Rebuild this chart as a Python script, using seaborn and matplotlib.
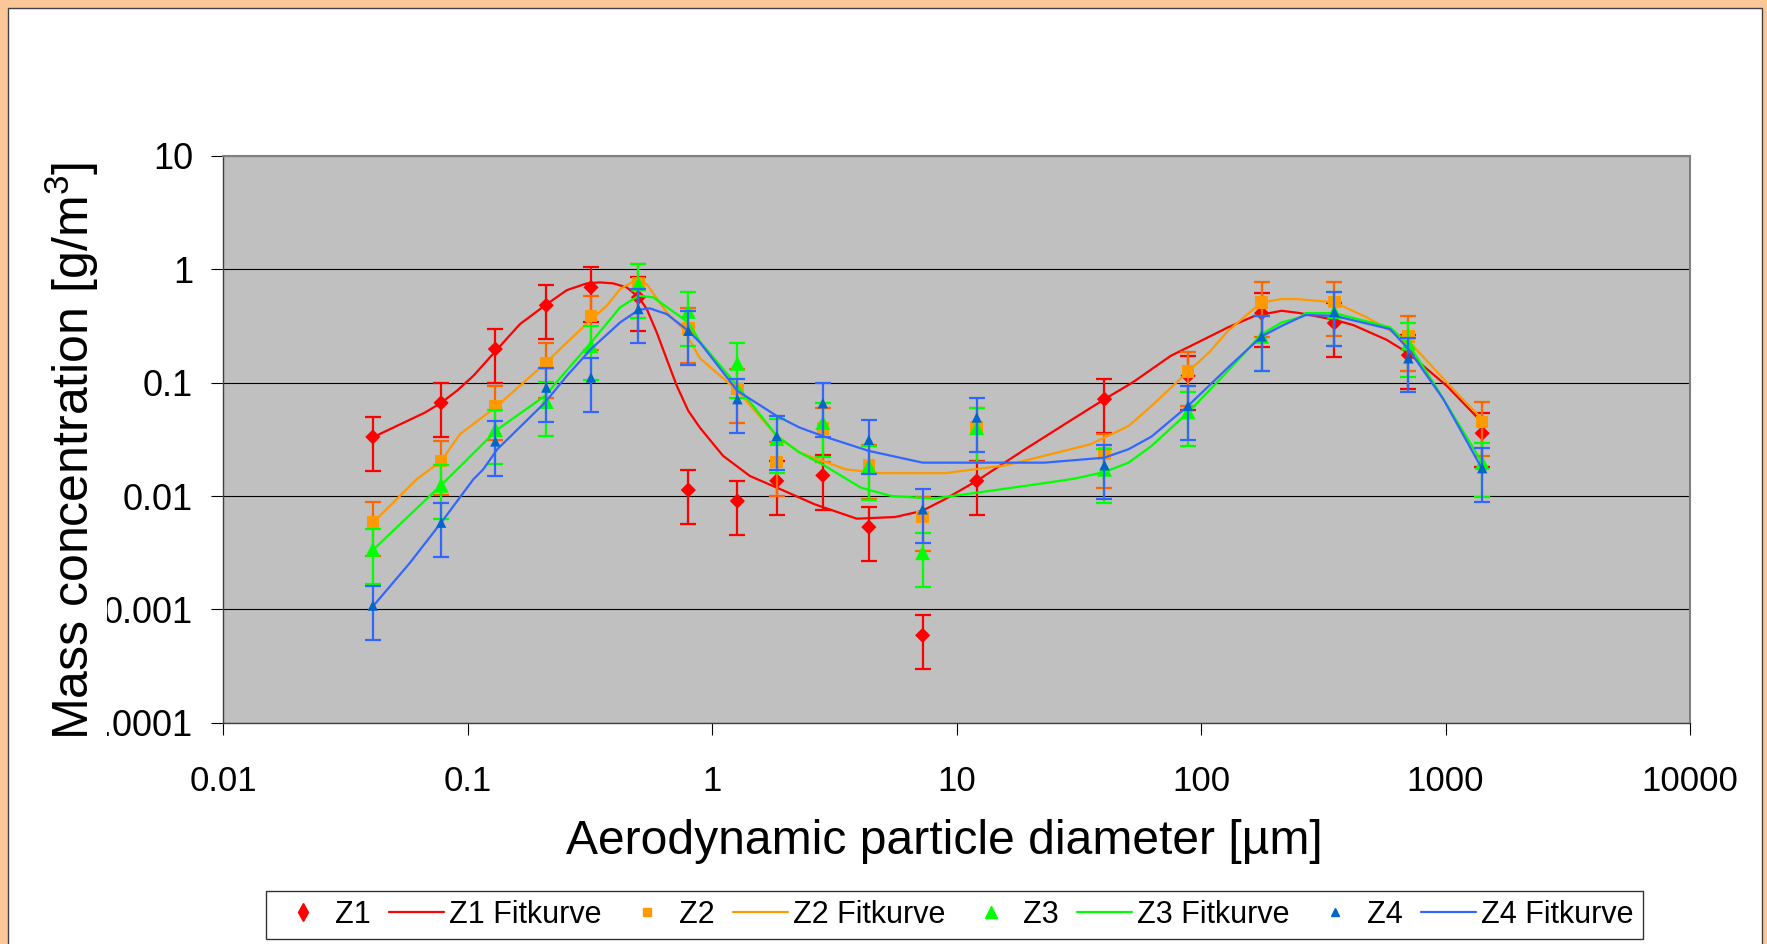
import matplotlib
matplotlib.use("Agg")
import matplotlib.pyplot as plt
from matplotlib.lines import Line2D
from matplotlib.patches import Rectangle
from matplotlib.transforms import Bbox, TransformedBbox
from matplotlib.ticker import NullLocator
import seaborn as sns

# stage diameters (µm), shared by all four series
diam = [0.041, 0.078, 0.13, 0.21, 0.32, 0.50, 0.80, 1.27, 1.84, 2.84, 4.38,
        7.27, 12.1, 40.3, 88.5, 177, 351, 705, 1413]

# measured mass concentrations (g/m3)
z1 = [0.0332, 0.0664, 0.198, 0.481, 0.693, 0.566, 0.0113, 0.00903, 0.0136, 0.0152,
      0.00532, 0.00059, 0.0136, 0.0715, 0.115, 0.411, 0.336, 0.175, 0.0358]
z2 = [0.00589, 0.0203, 0.0624, 0.148, 0.387, 0.746, 0.301, 0.0876, 0.020, 0.0396,
      0.0187, 0.00653, 0.0402, 0.0237, 0.125, 0.511, 0.515, 0.256, 0.0451]
z3 = [0.00338, 0.01245, 0.0386, 0.0682, 0.211, 0.741, 0.425, 0.148, 0.0321, 0.0445,
      0.0184, 0.00316, 0.040, 0.0172, 0.0552, 0.256, 0.422, 0.223, 0.0197]
z4 = [0.00108, 0.00582, 0.0303, 0.0906, 0.111, 0.446, 0.287, 0.0715, 0.0339, 0.0659,
      0.0313, 0.00763, 0.0493, 0.0187, 0.0624, 0.256, 0.42, 0.164, 0.0176]

# relative error of every measurement (+/- 50 %)
rel_err = 0.5

# fit curves
fit1_x = [0.0413, 0.067, 0.078, 0.0904, 0.1057, 0.1325, 0.164, 0.2075, 0.255, 0.308,
          0.348, 0.394, 0.448, 0.502, 0.541, 0.594, 0.653, 0.718, 0.80, 0.893,
          1.11, 1.43, 1.84, 2.63, 3.91, 5.61, 7.22, 8.96, 12.1, 19.1,
          28.4, 40.3, 52.5, 75.2, 96.8, 129, 166, 214, 254, 351,
          420, 574, 705, 1012, 1413]
fit1_y = [0.0332, 0.0545, 0.0664, 0.0847, 0.115, 0.198, 0.329, 0.481, 0.656, 0.752,
          0.767, 0.752, 0.693, 0.566, 0.446, 0.278, 0.161, 0.0937, 0.0564, 0.040,
          0.0226, 0.0150, 0.01186, 0.00845, 0.00631, 0.00653, 0.00738, 0.00936, 0.0136, 0.0259,
          0.0445, 0.0715, 0.1004, 0.1725, 0.226, 0.308, 0.389, 0.431, 0.411, 0.359,
          0.322, 0.239, 0.182, 0.0937, 0.0445]

fit2_x = [0.0413, 0.0619, 0.078, 0.0931, 0.1325, 0.2075, 0.32, 0.371, 0.421, 0.477,
          0.541, 0.653, 0.764, 0.893, 1.27, 1.84, 2.28, 3.52, 4.86, 8.96,
          16.0, 35.3, 50.6, 62.8, 88.5, 108, 129, 177, 214, 246,
          351, 476, 705, 1012, 1413]
fit2_y = [0.00589, 0.01405, 0.0203, 0.0351, 0.0624, 0.148, 0.36, 0.477, 0.670, 0.783,
          0.741, 0.417, 0.297, 0.164, 0.085, 0.0339, 0.0242, 0.0172, 0.0159, 0.0159,
          0.0187, 0.0286, 0.0415, 0.0624, 0.125, 0.185, 0.287, 0.511, 0.547, 0.547,
          0.511, 0.377, 0.234, 0.1004, 0.0476]

fit3_x = [0.0413, 0.0724, 0.078, 0.1325, 0.2075, 0.247, 0.32, 0.421, 0.502, 0.575,
          0.80, 0.893, 1.27, 1.84, 2.28, 2.83, 4.06, 5.41, 8.05, 12.1,
          21.3, 30.5, 40.3, 50.6, 62.8, 88.5, 129, 177, 214, 254,
          268, 351, 593, 705, 891, 1413]
fit3_y = [0.00338, 0.0107, 0.01245, 0.0386, 0.0765, 0.119, 0.226, 0.462, 0.585, 0.566,
          0.340, 0.23, 0.0937, 0.0339, 0.0242, 0.0190, 0.01186, 0.0100, 0.0095, 0.0107,
          0.0127, 0.01425, 0.0163, 0.0197, 0.0277, 0.0545, 0.127, 0.268, 0.340, 0.377,
          0.411, 0.411, 0.308, 0.219, 0.1004, 0.0197]

fit4_x = [0.0413, 0.0582, 0.078, 0.1057, 0.116, 0.1325, 0.2075, 0.255, 0.32, 0.421,
          0.502, 0.557, 0.653, 0.80, 0.893, 1.27, 1.84, 2.28, 2.83, 4.38,
          7.27, 12.1, 22.9, 40.3, 50.6, 62.8, 88.5, 129, 177, 214,
          254, 268, 351, 593, 705, 980, 1413]
fit4_y = [0.00108, 0.00258, 0.00582, 0.01405, 0.0172, 0.0259, 0.0668, 0.115, 0.198, 0.340,
          0.440, 0.452, 0.403, 0.287, 0.226, 0.0847, 0.0509, 0.0402, 0.0339, 0.0250,
          0.0197, 0.0197, 0.0197, 0.0218, 0.0259, 0.0335, 0.0624, 0.136, 0.256, 0.317,
          0.377, 0.395, 0.389, 0.297, 0.198, 0.0715, 0.0173]

series_names = ["Z1", "Z2", "Z3", "Z4"]
x_ticks = [0.01, 0.1, 1, 10, 100, 1000, 10000]
x_tick_labels = ["0.01", "0.1", "1", "10", "100", "1000", "10000"]
y_ticks = [0.0001, 0.001, 0.01, 0.1, 1, 10]
y_tick_labels = ["0.0001", "0.001", "0.01", "0.1", "1", "10"]

sns.set_theme(style="white")
plt.rcParams['font.family'] = ['Liberation Sans', 'DejaVu Sans']
plt.rcParams['mathtext.fontset'] = 'custom'
plt.rcParams['mathtext.rm'] = 'Liberation Sans'

W, H = 1767, 944
fig = plt.figure(figsize=(W / 100, H / 100), dpi=100)
fig.patch.set_facecolor('#FAC898')
fig.patches.append(Rectangle((8 / W, -0.01), (1762 - 8) / W, 1.01 - 8 / H,
                             transform=fig.transFigure, facecolor='white',
                             edgecolor='#404040', lw=1.0, zorder=-5))

ax = fig.add_axes([223 / W, 1 - 722.7 / H, (1690 - 223) / W, (722.7 - 156) / H])
ax.set_facecolor('#C0C0C0')
ax.set_xscale('log')
ax.set_yscale('log')

styles = [
    # marker, size, marker colour, errorbar colour, line colour
    ('D', 60, '#FF0000', '#FF0000', '#FF0000'),
    ('s', 82, '#FF9900', '#FF6600', '#FF9900'),
    ('^', 115, '#00FF00', '#00FF00', '#00FF00'),
    ('^', 56, '#0066CC', '#3366FF', '#3366FF'),
]
data = [z1, z2, z3, z4]
fits = [(fit1_x, fit1_y), (fit2_x, fit2_y), (fit3_x, fit3_y), (fit4_x, fit4_y)]

for i, (vals, (fx, fy), st) in enumerate(zip(data, fits, styles)):
    mk, size, mcol, ecol, lcol = st
    errs = [v * rel_err for v in vals]
    ax.errorbar(diam, vals, yerr=[errs, errs], fmt='none', ecolor=ecol,
                elinewidth=1.6, capsize=5.5, capthick=1.6, zorder=3 + 3 * i)
    sns.lineplot(x=fx, y=fy, ax=ax, color=lcol, lw=1.6, sort=False,
                 estimator=None, zorder=4 + 3 * i)
    sns.scatterplot(x=diam, y=vals, ax=ax, marker=mk, s=size, color=mcol,
                    edgecolor='none', linewidth=0, zorder=5 + 3 * i)

ax.set_xlim(0.01, 10000)
ax.set_ylim(0.0001, 10)
ax.set_xticks(x_ticks, labels=x_tick_labels)
ax.set_yticks(y_ticks, labels=y_tick_labels)
ax.xaxis.set_minor_locator(NullLocator())
ax.yaxis.set_minor_locator(NullLocator())
ax.tick_params(axis='both', which='major', direction='out', length=8.5, width=0.8,
               color='black', labelcolor='black')
ax.tick_params(axis='x', pad=22, bottom=True, labelsize=25)
ax.tick_params(axis='y', pad=13, left=True, labelsize=26)

ax.grid(False)
ax.yaxis.grid(True, color='black', lw=0.8)
ax.set_axisbelow(True)
for side in ['top', 'right']:
    ax.spines[side].set_color('#808080')
    ax.spines[side].set_linewidth(1.5)
for side in ['left', 'bottom']:
    ax.spines[side].set_color('#404040')
    ax.spines[side].set_linewidth(1.0)

ax.set_xlabel('Aerodynamic particle diameter [µm]', fontsize=34.6, color='black')
ax.xaxis.set_label_coords(0.4915, -0.21)
ax.xaxis.label.set_va('center')
ax.set_ylabel('Mass concentration [g/m$\\mathregular{^3}$]', fontsize=36, color='black')
ax.yaxis.set_label_coords(-0.103, 0.48)
ax.yaxis.label.set_va('center')

# the tick labels are cut off at the left, as in the original
clip = TransformedBbox(Bbox([[107 / W, 0], [1, 1]]), fig.transFigure)
for lab in ax.get_yticklabels():
    lab.set_clip_box(clip)
    lab.set_clip_on(True)

handles, labels = [], []
leg_markers = [('d', 9), ('s', 6), ('^', 8), ('^', 6)]
for name, st, lm in zip(series_names, styles, leg_markers):
    handles.append(Line2D([], [], marker=lm[0], markersize=lm[1], color=st[2],
                          linestyle='none'))
    labels.append(name)
    handles.append(Line2D([], [], color=st[4], lw=1.6))
    labels.append(name + ' Fitkurve')

leg = fig.legend(handles, labels, ncol=8, loc='center',
                 bbox_to_anchor=(954.5 / W, 1 - 915 / H), fontsize=22,
                 frameon=True, fancybox=False, edgecolor='#000000',
                 handlelength=1.8, handletextpad=0.15, columnspacing=0.6,
                 borderpad=0.3)
leg.get_frame().set_linewidth(1.0)
for t in leg.get_texts():
    t.set_color('black')

fig.savefig('out.png', dpi=100, facecolor=fig.get_facecolor())
